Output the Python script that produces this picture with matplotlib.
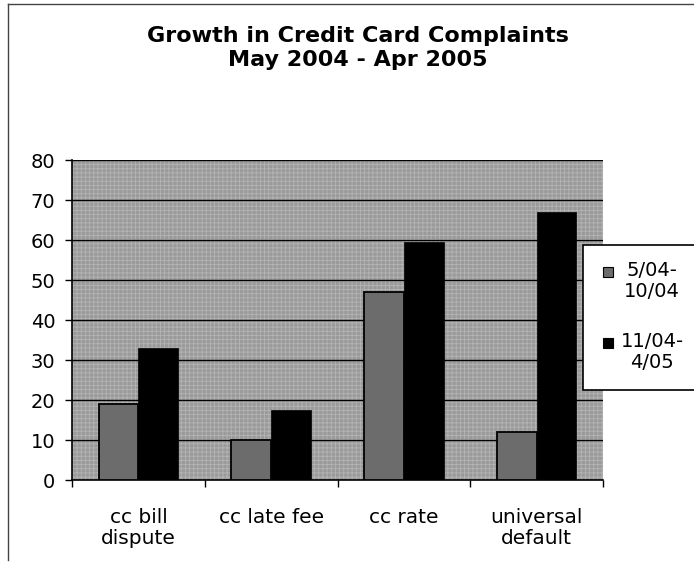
import matplotlib
matplotlib.use("Agg")
import matplotlib.pyplot as plt
import numpy as np
from matplotlib.patches import Rectangle
from matplotlib.lines import Line2D

categories = ["cc bill\ndispute", "cc late fee", "cc rate", "universal\ndefault"]
series_names = ["5/04-\n10/04", "11/04-\n4/05"]
period1 = [19, 10, 47, 12]
period2 = [33, 17.5, 59.5, 67]
yticks = [0, 10, 20, 30, 40, 50, 60, 70, 80]

plt.rcParams['font.family'] = ['DejaVu Sans']
plt.rcParams['hatch.linewidth'] = 0.6

W, H = 694, 567
fig = plt.figure(figsize=(W / 100, H / 100), dpi=100)
fig.patch.set_facecolor("white")

def fx(px):
    return px / W

def fy(py):
    return 1 - py / H

ax = fig.add_axes([fx(72), fy(480), fx(603) - fx(72), (480 - 160) / H])
ax.set_facecolor("#9a9a9a")
ax.add_patch(Rectangle((0, 0), 1, 1, transform=ax.transAxes, facecolor="#9a9a9a",
                       edgecolor="#b4b4b4", hatch="++++", linewidth=0, zorder=0))

x = np.arange(len(categories))
bw = 0.30
c_gray = "#6c6c6c"
ax.bar(x - bw / 2, period1, width=bw, color=c_gray, edgecolor="black", linewidth=1.3, zorder=3)
ax.bar(x + bw / 2, period2, width=bw, color="black", edgecolor="black", linewidth=0.5, zorder=3)

ax.set_xlim(-0.5, len(categories) - 0.5)
ax.set_ylim(0, 80)
ax.set_yticks(yticks)
ax.set_yticklabels([str(v) for v in yticks], fontsize=14)
ax.yaxis.grid(True, color="black", linewidth=1.0, zorder=1)
ax.set_axisbelow(True)

ax.set_xticks(x)
ax.set_xticklabels(categories, fontsize=14.5, linespacing=1.15)
ax.set_xticks(np.arange(len(categories) + 1) - 0.5, minor=True)
ax.tick_params(axis="x", which="major", length=0, pad=20)
ax.tick_params(axis="x", which="minor", length=5, width=1, color="black", direction="out")
ax.tick_params(axis="y", length=5, width=1, color="black", pad=7)

for s in ["top", "right"]:
    ax.spines[s].set_visible(False)
for s in ["left", "bottom"]:
    ax.spines[s].set_color("black")
    ax.spines[s].set_linewidth(1.2)

# Title
fig.text(fx(358), fy(48.5), "Growth in Credit Card Complaints\nMay 2004 - Apr 2005",
         ha="center", va="center", fontsize=16, fontweight="bold", linespacing=1.25)

# Legend box
leg_left, leg_top, leg_bot = 583, 245, 390
fig.add_artist(Rectangle((fx(leg_left), fy(leg_bot)), fx(W + 5) - fx(leg_left), (leg_bot - leg_top) / H,
                         transform=fig.transFigure, facecolor="white", edgecolor="black",
                         linewidth=1.2, zorder=5))
handles = [(c_gray, 272), ("black", 343)]
for (col, ty), name in zip(handles, series_names):
    fig.add_artist(Rectangle((fx(603), fy(ty + 5)), 10 / W, 10 / H, transform=fig.transFigure,
                             facecolor=col, edgecolor="black", linewidth=0.8, zorder=6))
    fig.text(fx(652), fy(ty - 11), name, ha="center", va="top", fontsize=14,
             linespacing=1.15, zorder=7)

# outer chart border
fig.add_artist(Line2D([fx(8), fx(8)], [fy(4), fy(560)], transform=fig.transFigure,
                      color="#444444", linewidth=1.0))
fig.add_artist(Line2D([fx(8), fx(W)], [fy(4), fy(4)], transform=fig.transFigure,
                      color="#444444", linewidth=1.0))

fig.savefig("out.png", dpi=100)
